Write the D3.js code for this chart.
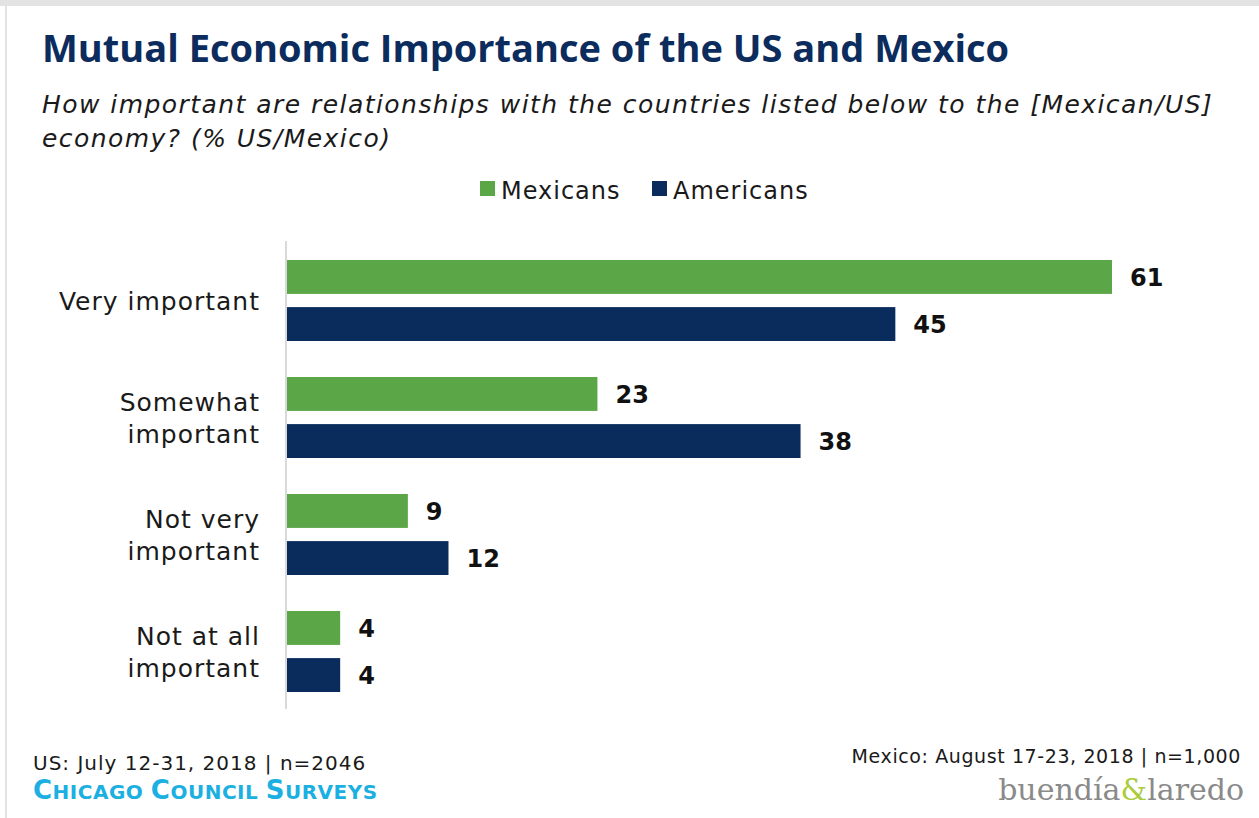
<!DOCTYPE html>
<html>
<head>
<meta charset="utf-8">
<style>
  body { margin: 0; background: #fff; font-family: 'DejaVu Sans', sans-serif; }
  svg { display: block; }
</style>
</head>
<body>
<svg width="1259" height="818"></svg>
<script src="https://d3js.org/d3.v7.min.js"></script>
<script>
var categories = ["Very important", "Somewhat important", "Not very important", "Not at all important"];
var categoryLines = [["Very important"], ["Somewhat", "important"], ["Not very", "important"], ["Not at all", "important"]];
var seriesNames = ["Mexicans", "Americans"];
var mexicans = [61, 23, 9, 4];
var americans = [45, 38, 12, 4];

var colors = ["#5ba747", "#0a2c5d"];

var svg = d3.select("svg");

// frame lines
svg.append("rect").attr("x", 0).attr("y", 0).attr("width", 1259).attr("height", 6).attr("fill", "#e3e3e3");
svg.append("rect").attr("x", 5).attr("y", 5).attr("width", 2).attr("height", 813).attr("fill", "#e3e3e3");

svg.append("text")
    .attr("x", 42).attr("y", 62)
    .attr("font-family", "'Open Sans', sans-serif")
    .attr("font-size", 38).attr("font-weight", "bold")
    .attr("fill", "#0b2c5d")
    .text("Mutual Economic Importance of the US and Mexico");

var sub = svg.append("text")
    .attr("font-size", 25).attr("font-style", "italic").attr("fill", "#1a1a1a")
    .attr("letter-spacing", 1.45);
sub.append("tspan").attr("x", 42).attr("y", 113)
    .text("How important are relationships with the countries listed below to the [Mexican/US]");
sub.append("tspan").attr("x", 42).attr("y", 147).text("economy? (% US/Mexico)");

// legend
var legend = svg.append("g");
var lx = [480, 652];
seriesNames.forEach(function(s, i) {
  legend.append("rect").attr("x", lx[i]).attr("y", 181).attr("width", 15).attr("height", 15).attr("fill", colors[i]);
  legend.append("text").attr("x", lx[i] + 21).attr("y", 199)
      .attr("font-size", 24).attr("letter-spacing", 1).attr("fill", "#1a1a1a").text(s);
});

// chart
var x = d3.scaleLinear().domain([0, 61]).range([286, 1112]);
var y0 = d3.scaleBand().domain(categories).range([243, 711]).paddingInner(0).paddingOuter(0);
var y1 = d3.scaleBand().domain(seriesNames).range([17, 17 + 81]).paddingInner(0.28);

var rows = categories.map(function(c, i) {
  return {cat: c, lines: categoryLines[i], values: [mexicans[i], americans[i]]};
});

var g = svg.append("g");
var grp = g.selectAll("g.row").data(rows).enter().append("g")
    .attr("transform", function(d) { return "translate(0," + y0(d.cat) + ")"; });

grp.selectAll("rect").data(function(d) {
    return d.values.map(function(v, j) { return {key: seriesNames[j], value: v, j: j}; });
  }).enter().append("rect")
    .attr("x", x(0))
    .attr("y", function(d) { return y1(d.key); })
    .attr("width", function(d) { return x(d.value) - x(0); })
    .attr("height", y1.bandwidth())
    .attr("fill", function(d) { return colors[d.j]; });

grp.selectAll("text.val").data(function(d) {
    return d.values.map(function(v, j) { return {key: seriesNames[j], value: v}; });
  }).enter().append("text")
    .attr("class", "val")
    .attr("x", function(d) { return x(d.value) + 18; })
    .attr("y", function(d) { return y1(d.key) + y1.bandwidth() / 2 + 9; })
    .attr("font-size", 24).attr("font-weight", "bold").attr("fill", "#111")
    .text(function(d) { return d.value; });

grp.each(function(d) {
  var t = d3.select(this).append("text")
      .attr("text-anchor", "end").attr("font-size", 25).attr("letter-spacing", 1)
      .attr("fill", "#1a1a1a");
  var mid = 17 + 81 / 2;
  var n = d.lines.length;
  d.lines.forEach(function(l, k) {
    t.append("tspan").attr("x", 260)
        .attr("y", mid + 9 + (k - (n - 1) / 2) * 32)
        .text(l);
  });
});

// axis line
svg.append("line")
    .attr("x1", x(0)).attr("x2", x(0))
    .attr("y1", 241).attr("y2", 709)
    .attr("stroke", "#d9d9d9").attr("stroke-width", 2);

// footer
svg.append("text").attr("x", 33).attr("y", 770).attr("font-size", 20).attr("letter-spacing", 1)
    .attr("fill", "#1a1a1a")
    .text("US: July 12-31, 2018 | n=2046");
var ccs = svg.append("text").attr("x", 33).attr("y", 799).attr("fill", "#1bb0e1")
    .attr("font-weight", "bold").attr("letter-spacing", 0.5);
[["C", 26], ["HICAGO ", 20], ["C", 26], ["OUNCIL ", 20], ["S", 26], ["URVEYS", 20]].forEach(function(p) {
  ccs.append("tspan").attr("font-size", p[1]).text(p[0]);
});
svg.append("text").attr("x", 1241).attr("y", 763).attr("text-anchor", "end")
    .attr("font-size", 19).attr("letter-spacing", 0.6).attr("fill", "#1a1a1a")
    .text("Mexico: August 17-23, 2018 | n=1,000");
var bl = svg.append("text").attr("x", 1244).attr("y", 800).attr("text-anchor", "end")
    .attr("font-size", 30).attr("font-family", "'DejaVu Serif', serif").attr("fill", "#8a8a8a");
bl.append("tspan").text("buendía");
bl.append("tspan").attr("fill", "#a9cc3a").text("&");
bl.append("tspan").text("laredo");
</script>
</body>
</html>
